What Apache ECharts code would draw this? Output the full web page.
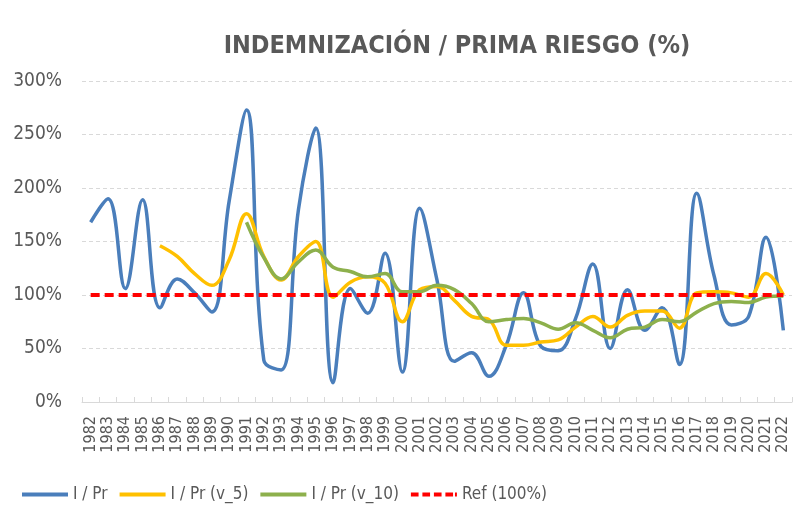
<!DOCTYPE html>
<html>
<head>
<meta charset="utf-8">
<script src="https://cdn.jsdelivr.net/npm/echarts@6/dist/echarts.min.js"></script>
<style>
  html, body { margin: 0; padding: 0; background: #fff; }
  #chart { width: 799px; height: 528px; }
</style>
</head>
<body>
<div id="chart"></div>
<script>
const years = [];
for (let y = 1982; y <= 2022; y++) years.push(String(y));

// values in %
const ipr = [168, 190, 106, 189, 88, 115, 102, 84, 188, 273, 39, 30, 180, 256, 18, 106, 83, 139, 28, 181,
  114, 38, 46, 24, 53, 102, 52, 48, 78, 129, 50, 105, 67, 88, 35, 195, 118, 72, 80, 154, 67];
const iprV5 = [null, null, null, null, 146, 136, 120, 109, 133, 176, 136, 114, 136, 150, 98, 112, 117, 111, 75, 105,
  108, 95, 80, 77, 53, 53, 56, 58, 70, 80, 70, 81, 85, 85, 69, 102, 103, 102, 98, 120, 100];
const iprV10 = [null, null, null, null, null, null, null, null, null, 168, 135, 115, 131, 142, 126, 122, 117, 120, 103, 103,
  109, 105, 92, 75, 77, 78, 74, 68, 74, 67, 60, 68, 70, 77, 75, 84, 92, 94, 93, 98, 99];
const ref = years.map(() => 100);

const yTicks = [0, 50, 100, 150, 200, 250, 300];

const chart = echarts.init(document.getElementById("chart"));

const textColor = "#595959";
const font = "'Liberation Sans Narrow', 'DejaVu Sans Condensed', Arial, sans-serif";

// legend icons: plain bar and dashed bar
const solidIcon = "path://M0,0L46,0L46,4L0,4Z";
const dashIcon = "path://M0,0L8,0L8,4L0,4Z M12,0L20,0L20,4L12,4Z M24,0L32,0L32,4L24,4Z M36,0L44,0L44,4L36,4Z M46,0L48,0L48,4L46,4Z";

chart.setOption({
  backgroundColor: "#fff",
  animation: false,
  title: {
    text: "INDEMNIZACIÓN / PRIMA RIESGO (%)",
    left: 452,
    top: 29,
    textAlign: "center",
    textStyle: { fontFamily: font, fontSize: 25, fontWeight: "bold", color: textColor },
  },
  legend: {
    bottom: 20,
    left: 17,
    itemWidth: 46,
    itemHeight: 4,
    itemGap: 12,
    textStyle: { fontFamily: font, fontSize: 17, color: textColor },
    data: [
      { name: "I / Pr", icon: solidIcon },
      { name: "I / Pr (v_5)", icon: solidIcon },
      { name: "I / Pr (v_10)", icon: solidIcon },
      { name: "Ref (100%)", icon: dashIcon },
    ],
  },
  grid: { left: 82, right: 7, top: 81, bottom: 126 },
  xAxis: {
    type: "category",
    data: years,
    boundaryGap: true,
    axisLine: { lineStyle: { color: "#d9d9d9", width: 1 } },
    axisTick: { show: true, inside: true, length: 5, lineStyle: { color: "#d9d9d9" } },
    axisLabel: {
      rotate: 90,
      interval: 0,
      margin: 14,
      fontFamily: font,
      fontSize: 16,
      color: textColor,
    },
  },
  yAxis: {
    type: "value",
    min: yTicks[0],
    max: yTicks[yTicks.length - 1],
    interval: 50,
    axisLine: { show: false },
    axisTick: { show: false },
    axisLabel: {
      formatter: (v) => v + "%",
      margin: 20,
      fontFamily: font,
      fontSize: 19,
      color: textColor,
    },
    splitLine: { lineStyle: { color: "#d9d9d9", type: [4, 3], width: 1 } },
  },
  series: [
    {
      name: "I / Pr",
      type: "line",
      data: ipr,
      smooth: 0.4,
      symbol: "none",
      lineStyle: { color: "#4a7ebb", width: 3.5 },
      itemStyle: { color: "#4a7ebb" },
      z: 2,
    },
    {
      name: "I / Pr (v_5)",
      type: "line",
      data: iprV5,
      smooth: 0.4,
      symbol: "none",
      lineStyle: { color: "#ffc000", width: 3.5 },
      itemStyle: { color: "#ffc000" },
      z: 3,
    },
    {
      name: "I / Pr (v_10)",
      type: "line",
      data: iprV10,
      smooth: 0.4,
      symbol: "none",
      lineStyle: { color: "#8db04c", width: 3.5 },
      itemStyle: { color: "#8db04c" },
      z: 4,
    },
    {
      name: "Ref (100%)",
      type: "line",
      data: ref,
      symbol: "none",
      lineStyle: { color: "#ff0000", width: 4, type: [9, 5] },
      itemStyle: { color: "#ff0000" },
      z: 5,
    },
  ],
});
</script>
</body>
</html>
